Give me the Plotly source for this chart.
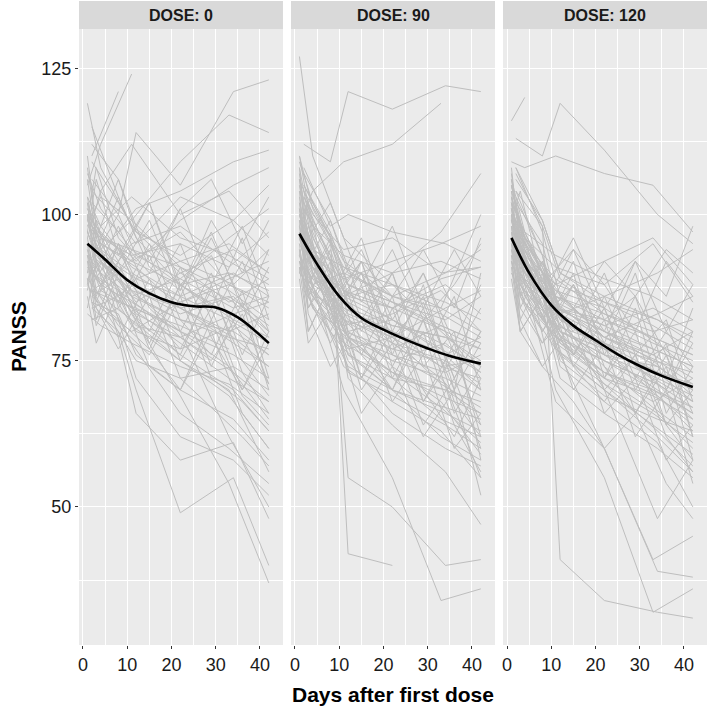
import plotly.graph_objects as go

# ---------------- data ----------------
PANELS = ["DOSE: 0", "DOSE: 90", "DOSE: 120"]

# visit schedules (days after first dose)
VISITS_A = [1, 4, 11, 22, 33, 42]
VISITS_B = [2, 8, 12, 22, 34, 42]
VISITS_C = [1, 3, 8, 15, 22, 29, 36, 42]

DOSE0 = [
    [105, 112, 124, None, None, None],
    [92, 100, 114, 105, 121, 123],
    [98, 103, 99, 109, 117, 114],
    [110, 121, None, None, None, None],
    [119, 108, 98, 92, 95, 90],
    [102, 97, 101, 104, 109, 111],
    [96, 104, 112, 100, 104, 96],
    [88, 95, 92, 99, 105, 108],
    [100, 94, 90, 85, 88, 84],
    [93, 89, 86, 82, 80, 76],
    [107, 101, 94, 88, 90, 87],
    [84, 86, 89, 92, 88, 94],
    [97, 92, 84, 78, 72, 68],
    [90, 87, 82, 76, 70, 63],
    [101, 95, 87, 80, 74, 65],
    [86, 82, 72, 62, 58, 52],
    [94, 88, 78, 66, 60, 54],
    [87, 80, 70, 49, 55, 40],
    [99, 93, 83, 69, 54, 37],
    [85, 79, 66, 58, 61, 48],
    [103, 98, 91, 86, 82, 78],
    [95, 91, 89, 86, 90, 86],
    [89, 92, 88, 84, 86, 81],
    [112, 106, 97, 90, 85, 80],
    [91, 88, 95, 98, 92, 88],
    [82, 84, 81, 79, 83, 85],
    [98, 96, 93, 95, 91, 97],
    [104, 99, 95, 103, 99, 93],
    [93, 90, 86, 89, 96, 101],
    [87, 85, 84, 80, 76, 72],
    [100, 97, 92, 88, 83, 71],
    [96, 93, 91, 84, 79, 74],
    [83, 81, 78, 74, 71, 66],
    [109, 102, 97, 93, 99, 105],
    [92, 94, 99, 91, 87, 82],
    [86, 89, 85, 90, 94, 90],
    [97, 90, 81, 75, 69, 60],
    [90, 86, 80, 77, 81, 76],
    [102, 95, 92, 97, 88, 85],
    [94, 91, 87, 83, 86, 79],
    [88, 84, 80, 85, 89, 92],
    [115, 103, 96, 88, 82, 79],
    [99, 96, 94, 91, 85, 89],
    [85, 83, 76, 70, 65, 58],
    [93, 87, 84, 81, 77, None],
    [106, 100, 93, None, None, None],
    [90, 92, 87, 84, 80, 83],
    [84, 80, 75, 72, 74, 70],
    [101, 98, 103, 96, 93, 89],
    [96, 89, 83, 79, 73, 68],
    [89, 86, 82, 75, 70, 56],
    [98, 94, 88, 84, 78, 74],
    [92, 88, 85, 80, 62, 50],
    [87, 90, 93, 89, 84, 86],
    [95, 92, 86, 82, 79, 77],
]
DOSE0_C = [
    [100, 90, 98, 86, 95, 82, 92, 80],
    [88, 97, 84, 93, 80, 90, 76, 86],
    [106, 96, 106, 92, 101, 88, 98, 86],
    [92, 82, 92, 78, 88, 74, 85, 70],
    [97, 106, 93, 102, 87, 97, 84, 94],
    [84, 92, 79, 89, 75, 84, 70, 78],
    [110, 98, 92, 102, 88, 84, 96, 82],
    [95, 85, 95, 81, 76, 88, 73, 66],
    [90, 99, 86, 80, 91, 79, 70, 80],
    [102, 91, 85, 95, 82, 76, 87, 72],
    [86, 78, 87, 74, 70, 80, 66, 60],
    [99, 108, 96, 90, 101, 106, 95, 103],
    [93, 84, 77, 86, 72, 67, 62, 57],
    [108, 98, 90, 99, 86, 96, 85, 80],
    [89, 81, 90, 77, 88, 93, 82, 91],
    [96, 87, 81, 76, 86, 72, 68, 63],
    [103, 94, 103, 91, 87, 99, 90, 99],
    [87, 95, 82, 77, 70, 82, 69, 64],
    [94, 86, 95, 84, 79, 75, 83, 71],
    [100, 92, 87, 83, 77, 87, 75, 69],
]

DOSE90 = [
    [127, 110, 96, 88, 80, 74],
    [112, 109, 121, 118, 122, 121],
    [98, 104, 109, 112, 119, None],
    [104, 96, 42, 40, None, None],
    [96, 88, 70, 55, 34, 36],
    [101, 92, 55, 50, 40, 41],
    [109, 102, 92, 86, 84, 100],
    [108, 98, 100, 97, 95, 92],
    [106, 100, 94, 96, 90, 91],
    [103, 95, 88, 85, 80, 72],
    [100, 91, 82, 77, 75, 70],
    [98, 88, 80, 82, 76, 79],
    [110, 97, 85, 78, 72, 64],
    [95, 90, 86, 84, 88, 83],
    [93, 86, 78, 73, 69, 66],
    [97, 85, 76, 72, 70, 68],
    [102, 94, 84, 80, 74, 75],
    [91, 85, 79, 75, 78, 73],
    [99, 92, 83, 79, 71, 67],
    [105, 96, 84, 81, 79, 77],
    [94, 84, 77, 70, 62, 58],
    [100, 89, 72, 64, 56, 47],
    [96, 87, 74, 68, 63, 55],
    [88, 82, 77, 79, 84, 87],
    [92, 86, 81, 83, 87, 80],
    [107, 99, 90, 86, 90, 94],
    [97, 93, 89, 92, 95, 98],
    [90, 83, 75, 66, 60, 57],
    [101, 90, 79, 73, 67, 61],
    [95, 92, 88, 85, 82, 86],
    [108, 96, 86, 82, 77, 73],
    [93, 87, 82, 78, 75, 71],
    [99, 94, 91, 88, 84, 80],
    [87, 80, 74, 70, 66, 63],
    [104, 98, 93, 90, 97, 107],
    [96, 88, 79, 76, 73, 76],
    [91, 84, 80, 77, 81, 78],
    [102, 93, 86, 88, 85, 82],
    [98, 90, 82, 74, 68, 59],
    [94, 89, 85, 81, 79, 75],
    [106, 95, 80, 72, 65, 62],
    [89, 86, 83, 80, 76, 70],
    [100, 94, 87, 84, 89, 91],
    [97, 84, 73, 69, 64, 60],
    [92, 88, 90, 86, 83, 79],
    [103, 92, 85, 76, 71, 55],
    [95, 90, 84, 80, None, None],
    [99, 86, 76, 70, 67, 65],
    [90, 87, 82, 79, 74, 72],
    [105, 97, 88, 84, 80, 77],
    [96, 91, 87, 82, 78, 74],
    [101, 93, 80, 75, 72, 69],
    [93, 89, 86, 90, 92, 89],
    [88, 84, 79, 73, 70, 66],
    [110, 101, 91, 85, 81, 78],
]
DOSE90_C = [
    [104, 88, 95, 80, 90, 76, 86, 70],
    [93, 98, 84, 90, 79, 85, 72, 80],
    [108, 92, 99, 85, 94, 82, 88, 95],
    [99, 84, 90, 72, 80, 68, 76, 64],
    [96, 102, 85, 92, 76, 88, 70, 78],
    [101, 86, 94, 78, 70, 82, 66, 74],
    [91, 80, 88, 70, 78, 64, 72, 60],
    [105, 95, 82, 90, 74, 84, 68, 62],
    [97, 90, 80, 92, 86, 94, 84, 96],
    [102, 88, 96, 82, 90, 74, 80, 58],
    [89, 78, 84, 66, 74, 62, 70, 52],
    [107, 96, 102, 88, 98, 84, 94, 86],
    [95, 83, 74, 82, 68, 76, 60, 66],
    [100, 94, 86, 96, 80, 90, 78, 88],
    [94, 80, 88, 72, 84, 70, 62, 72],
    [103, 91, 84, 92, 78, 86, 72, 80],
    [90, 96, 82, 76, 86, 68, 78, 62],
    [98, 86, 78, 88, 72, 82, 70, 90],
    [106, 92, 86, 94, 82, 90, 76, 84],
    [92, 84, 92, 76, 70, 80, 64, 56],
]

DOSE120 = [
    [116, 120, None, None, None, None],
    [113, 110, 119, 111, 100, 95],
    [109, 108, 110, 107, 105, 97],
    [104, 98, 41, 34, 32, 31],
    [100, 92, 70, 55, 32, 36],
    [98, 90, 76, 60, 39, 38],
    [97, 88, 68, 60, 41, 45],
    [102, 95, 83, 70, 48, 58],
    [103, 96, 88, 92, 96, 88],
    [106, 99, 90, 85, 82, 78],
    [101, 92, 84, 80, 76, 72],
    [99, 90, 82, 77, 73, 68],
    [95, 86, 79, 75, 70, 66],
    [108, 97, 86, 79, 74, 70],
    [94, 87, 81, 78, 75, 73],
    [100, 91, 83, 77, 69, 63],
    [97, 89, 84, 82, 79, 76],
    [92, 86, 80, 76, 72, 69],
    [105, 94, 82, 74, 67, 62],
    [98, 88, 78, 72, 66, 60],
    [96, 90, 85, 81, 84, 80],
    [103, 93, 80, 71, 63, 57],
    [90, 85, 79, 73, 70, 67],
    [107, 98, 89, 84, 78, 73],
    [99, 92, 86, 83, 80, 82],
    [95, 88, 83, 86, 90, 94],
    [101, 94, 87, 79, 76, 80],
    [93, 87, 81, 75, 71, 65],
    [104, 96, 91, 88, 95, 85],
    [97, 84, 72, 66, 60, 55],
    [100, 90, 77, 70, 64, 59],
    [91, 84, 78, 73, 69, 64],
    [106, 97, 85, 78, 72, 68],
    [96, 89, 83, 79, 75, 71],
    [102, 91, 80, 73, 68, 72],
    [94, 86, 80, 76, 74, 70],
    [99, 93, 88, 85, 81, 77],
    [89, 83, 76, 70, 62, 56],
    [103, 95, 84, 81, 77, 74],
    [97, 88, 79, 75, 71, 67],
    [92, 85, 77, 71, 66, 61],
    [108, 99, 90, 86, 82, 79],
    [95, 90, 86, 82, 78, 75],
    [100, 87, 75, 69, 65, 63],
    [98, 92, 87, 84, None, None],
    [104, 93, 83, 76, 70, 66],
    [93, 88, 84, 80, 77, 74],
    [96, 86, 74, 68, 61, 50],
    [101, 95, 89, 83, 79, 76],
    [90, 84, 80, 77, 73, 71],
    [105, 96, 86, 80, 75, 69],
    [97, 91, 84, 79, 83, 86],
    [99, 89, 78, 72, 69, 65],
    [94, 87, 82, 78, 73, 70],
    [102, 97, 93, 89, 86, 82],
]
DOSE120_C = [
    [103, 90, 82, 92, 76, 86, 70, 80],
    [98, 86, 92, 76, 84, 70, 78, 62],
    [108, 94, 86, 96, 84, 92, 80, 88],
    [95, 82, 90, 74, 82, 66, 74, 58],
    [101, 88, 80, 90, 72, 80, 64, 70],
    [93, 80, 86, 70, 78, 62, 70, 54],
    [106, 96, 82, 88, 78, 90, 72, 84],
    [99, 104, 88, 94, 82, 86, 76, 66],
    [91, 80, 74, 82, 66, 72, 58, 64],
    [104, 92, 84, 94, 88, 80, 92, 86],
    [96, 84, 92, 78, 72, 84, 66, 74],
    [100, 86, 78, 84, 70, 76, 62, 56],
    [94, 84, 78, 88, 80, 92, 86, 98],
    [107, 95, 86, 80, 90, 76, 82, 68],
    [97, 86, 80, 88, 74, 66, 76, 62],
    [102, 90, 84, 76, 84, 72, 80, 74],
    [92, 82, 74, 68, 60, 66, 54, 48],
    [105, 98, 90, 84, 92, 86, 94, 90],
    [89, 80, 86, 74, 68, 76, 64, 58],
    [98, 88, 82, 76, 86, 74, 70, 78],
]

SMOOTH_DAYS = [1, 5, 10, 15, 20, 25, 30, 35, 42]
SMOOTH_DOSE0 = [95.0, 92.3, 88.8, 86.5, 85.0, 84.3, 84.1, 82.4, 78.0]
SMOOTH_DOSE90 = [96.7, 91.5, 86.0, 82.3, 80.3, 78.6, 77.1, 75.8, 74.5]
SMOOTH_DOSE120 = [96.0, 90.0, 84.5, 81.0, 78.5, 76.1, 74.1, 72.4, 70.5]

X_TICKS = [0, 10, 20, 30, 40]
Y_TICKS = [50, 75, 100, 125]

# ---------------- figure ----------------
FONT = "Liberation Sans, Arial, Helvetica, sans-serif"
GREY_LINE = "rgb(190,190,190)"
PANEL_BG = "#EBEBEB"
STRIP_BG = "#D9D9D9"

subjects = [DOSE0, DOSE90, DOSE120]
subjects_c = [DOSE0_C, DOSE90_C, DOSE120_C]
smooths = [SMOOTH_DOSE0, SMOOTH_DOSE90, SMOOTH_DOSE120]
domains = [[0.0, 0.3248], [0.3376, 0.6624], [0.6752, 1.0]]
YTOP = 0.9565

fig = go.Figure()

for p in range(3):
    xs, ys = [], []
    rows = [(VISITS_A if i % 2 == 0 else VISITS_B, r) for i, r in enumerate(subjects[p])]
    rows += [(VISITS_C, r) for r in subjects_c[p]]
    for days, row in rows:
        for d, v in zip(days, row):
            if v is not None:
                xs.append(d)
                ys.append(v)
        xs.append(None)
        ys.append(None)
    xa = "x" if p == 0 else f"x{p+1}"
    ya = "y" if p == 0 else f"y{p+1}"
    fig.add_trace(go.Scatter(x=xs, y=ys, mode="lines", xaxis=xa, yaxis=ya,
                             line=dict(color=GREY_LINE, width=1),
                             hoverinfo="skip", showlegend=False))
    fig.add_trace(go.Scatter(x=SMOOTH_DAYS, y=smooths[p], mode="lines",
                             xaxis=xa, yaxis=ya,
                             line=dict(color="black", width=2.6, shape="spline"),
                             showlegend=False))

layout = dict(
    width=709, height=710,
    margin=dict(l=79, r=2, t=1, b=65),
    paper_bgcolor="white",
    plot_bgcolor=PANEL_BG,
    font=dict(family=FONT, color="#1a1a1a"),
    showlegend=False,
)

for p in range(3):
    xkey = "xaxis" if p == 0 else f"xaxis{p+1}"
    ykey = "yaxis" if p == 0 else f"yaxis{p+1}"
    layout[xkey] = dict(
        domain=domains[p], range=[-0.9, 45.2], anchor="y" if p == 0 else f"y{p+1}",
        tickvals=X_TICKS, ticks="outside", ticklen=3, tickwidth=1, tickcolor="#333333",
        tickfont=dict(size=18, color="#1a1a1a", family=FONT),
        showgrid=True, gridcolor="white", gridwidth=1.3, zeroline=False,
        showline=False,
        minor=dict(tick0=0, dtick=5, showgrid=True, gridcolor="white", gridwidth=0.6, ticks=""),
    )
    layout[ykey] = dict(
        domain=[0, YTOP], range=[26.4, 131.7], anchor="x" if p == 0 else f"x{p+1}",
        tickvals=Y_TICKS, ticks="outside" if p == 0 else "", ticklen=3, tickwidth=1,
        tickcolor="#333333", showticklabels=(p == 0),
        tickfont=dict(size=18, color="#1a1a1a", family=FONT),
        showgrid=True, gridcolor="white", gridwidth=1.3, zeroline=False,
        showline=False,
        minor=dict(tick0=0, dtick=12.5, showgrid=True, gridcolor="white", gridwidth=0.6, ticks=""),
    )
    if p > 0:
        layout[ykey]["matches"] = "y"

fig.update_layout(**layout)

shapes = []
annotations = []
for p in range(3):
    shapes.append(dict(type="rect", xref="paper", yref="paper",
                       x0=domains[p][0], x1=domains[p][1], y0=YTOP, y1=1.0,
                       fillcolor=STRIP_BG, line=dict(width=0), layer="below"))
    annotations.append(dict(text=f"<b>{PANELS[p]}</b>", xref="paper", yref="paper",
                            x=(domains[p][0] + domains[p][1]) / 2, y=(YTOP + 1) / 2,
                            xanchor="center", yanchor="middle", showarrow=False,
                            font=dict(size=16, color="#1a1a1a", family=FONT)))

annotations.append(dict(text="<b>Days after first dose</b>", xref="paper", yref="paper",
                        x=0.5, y=-0.0776, xanchor="center", yanchor="middle",
                        showarrow=False, font=dict(size=21, color="black", family=FONT)))
annotations.append(dict(text="<b>PANSS</b>", xref="paper", yref="paper",
                        x=-0.097, y=YTOP / 2, xanchor="center", yanchor="middle",
                        textangle=-90, showarrow=False,
                        font=dict(size=21, color="black", family=FONT)))

fig.update_layout(shapes=shapes, annotations=annotations)

fig.write_html("out.html",
               config={"displayModeBar": False},
               post_script="document.body.style.margin='0';document.body.style.overflow='hidden';")
